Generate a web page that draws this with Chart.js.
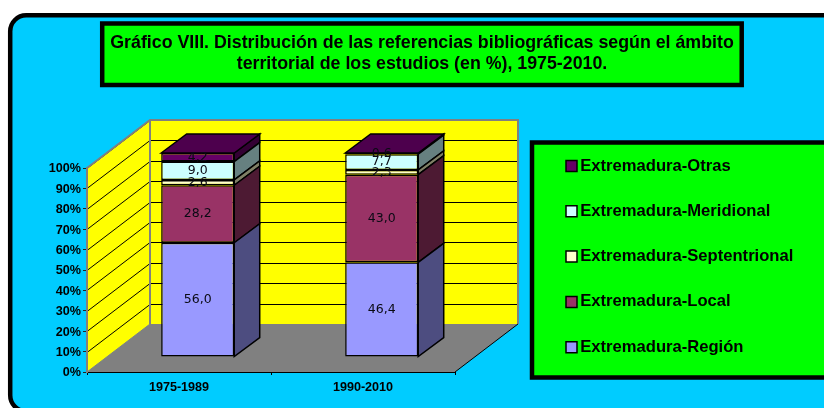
<!DOCTYPE html>
<html><head><meta charset="utf-8">
<style>html,body{margin:0;padding:0;background:#fff;overflow:hidden}canvas{display:block}</style>
<script src="https://cdn.jsdelivr.net/npm/chart.js@4/dist/chart.umd.js"></script>
</head><body><canvas id="c" width="824" height="408"></canvas>
<script>
const categories = ['1975-1989', '1990-2010'];
const region = [56.0, 46.4];
const local = [28.2, 43.0];
const septentrional = [2.6, 2.3];
const meridional = [9.0, 7.7];
const otras = [4.2, 0.6];
const seriesNames = ['Extremadura-Región','Extremadura-Local','Extremadura-Septentrional','Extremadura-Meridional','Extremadura-Otras'];
const seriesValues = [region, local, septentrional, meridional, otras];
const frontColors = ['#9999FF','#993366','#FFFFCC','#CCFFFF','#660066'];
const sideColors = ['#4D4D80','#4D1A33','#808066','#668080','#330033'];
const topColor = '#4D004D';
const titleLines = ['Gráfico VIII. Distribución de las referencias bibliográficas según el ámbito','territorial de los estudios (en %), 1975-2010.'];

const WALL_DX = 63, WALL_DY = 48;
const BAR_SHIFT_X = 18.7, BAR_SHIFT_Y = 15;
const BAR_DX = 25.5, BAR_DY = 19;

function poly(ctx, pts, fill, stroke, lw){
  ctx.beginPath();
  pts.forEach((p,i)=> i?ctx.lineTo(p[0],p[1]):ctx.moveTo(p[0],p[1]));
  ctx.closePath();
  if(fill){ctx.fillStyle=fill;ctx.fill();}
  if(stroke){ctx.strokeStyle=stroke;ctx.lineWidth=lw;ctx.stroke();}
}
function boxed(ctx,x,y,w,h){
  ctx.fillStyle='#00FF00';ctx.fillRect(x,y,w,h);
  ctx.strokeStyle='#000';ctx.lineWidth=4.5;ctx.strokeRect(x,y,w,h);
}
const scene = {
  id:'scene',
  beforeDraw(chart){
    const ctx=chart.ctx, a=chart.chartArea, ys=chart.scales.y;
    ctx.save();
    ctx.fillStyle='#fff';ctx.fillRect(0,0,824,408);
    ctx.beginPath();ctx.roundRect(10.2,15.3,900,396,16);
    ctx.fillStyle='#00CCFF';ctx.fill();
    ctx.strokeStyle='#000';ctx.lineWidth=4.5;ctx.stroke();
    boxed(ctx,102.2,23.5,639.5,61.5);
    boxed(ctx,532,142.5,320,235);
    const L=a.left,R=a.right,T=a.top,B=a.bottom;
    poly(ctx,[[L,B],[R,B],[R+WALL_DX,B-WALL_DY],[L+WALL_DX,B-WALL_DY]],'#808080');
    poly(ctx,[[L,B],[L+WALL_DX,B-WALL_DY],[L+WALL_DX,T-WALL_DY],[L,T]],'#FFFF00');
    ctx.fillStyle='#FFFF00';ctx.fillRect(L+WALL_DX,T-WALL_DY,R-L,B-T);
    ctx.strokeStyle='#000';ctx.lineWidth=1;
    ys.ticks.forEach(t=>{
      if(t.value===0) return;
      const y=Math.round(ys.getPixelForValue(t.value))+0.5;
      ctx.beginPath();ctx.moveTo(L,y);ctx.lineTo(L+WALL_DX,y-WALL_DY);ctx.lineTo(R+WALL_DX,y-WALL_DY);ctx.stroke();
    });
    ctx.strokeStyle='#808080';ctx.lineWidth=2;
    ctx.beginPath();ctx.moveTo(L,T);ctx.lineTo(L+WALL_DX,T-WALL_DY);ctx.lineTo(R+WALL_DX,T-WALL_DY);ctx.lineTo(R+WALL_DX,B-WALL_DY);ctx.stroke();
    ctx.beginPath();ctx.moveTo(L+WALL_DX,T-WALL_DY);ctx.lineTo(L+WALL_DX,B-WALL_DY);ctx.stroke();
    ctx.strokeStyle='#000';ctx.lineWidth=1;
    ctx.beginPath();ctx.moveTo(R,B);ctx.lineTo(R+WALL_DX,B-WALL_DY);ctx.stroke();
    ctx.beginPath();ctx.moveTo(L,B);ctx.lineTo(L+WALL_DX,B-WALL_DY);ctx.strokeStyle='#808080';ctx.stroke();
    ctx.restore();
    const tb=chart.titleBlock; tb.left=104; tb.right=740; tb.top=32.5;
    const lg=chart.legend; lg.left=542.3; lg.right=824; lg.top=129; lg.bottom=400;
  },
  beforeDatasetDraw(chart,args){
    const ctx=chart.ctx, meta=args.meta;
    ctx.save();
    ctx.translate(BAR_SHIFT_X,-BAR_SHIFT_Y);
    ctx.lineJoin='miter';
    const last=chart.data.datasets.length-1;
    meta.data.forEach(el=>{
      const p=el.getProps(['x','y','base','width'],true);
      const l=p.x-p.width/2,r=p.x+p.width/2,t=p.y,b=p.base;
      poly(ctx,[[r,t],[r+BAR_DX,t-BAR_DY],[r+BAR_DX,b-BAR_DY],[r,b]],sideColors[args.index],'#000',1.5);
      if(args.index===last) poly(ctx,[[l,t],[l+BAR_DX,t-BAR_DY],[r+BAR_DX,t-BAR_DY],[r,t]],topColor,'#000',1.5);
    });
  },
  afterDatasetDraw(chart){ chart.ctx.restore(); },
  afterDatasetsDraw(chart){
    const ctx=chart.ctx;
    ctx.save();
    ctx.font='12.5px "DejaVu Sans"';ctx.fillStyle='#0a0a14';ctx.textAlign='center';ctx.textBaseline='middle';
    chart.data.datasets.forEach((ds,i)=>{
      chart.getDatasetMeta(i).data.forEach((el,j)=>{
        const p=el.getProps(['x','y','base'],true);
        ctx.fillText(ds.data[j].toFixed(1).replace('.',','),p.x+BAR_SHIFT_X,(p.y+p.base)/2-BAR_SHIFT_Y);
      });
    });
    ctx.restore();
  }
};

new Chart(document.getElementById('c'),{
  type:'bar',
  data:{labels:categories,datasets:seriesNames.map((n,i)=>({
    label:n,data:seriesValues[i],backgroundColor:frontColors[i],borderColor:'#000',borderWidth:1.5,borderSkipped:false,
    categoryPercentage:1,barPercentage:0.397,clip:false
  }))},
  options:{
    responsive:false,animation:false,
    layout:{padding:{left:0,right:369,top:126,bottom:0}},
    scales:{
      x:{stacked:true,offset:true,
        afterFit(s){s.height=36;},
        border:{color:'#000',width:1},
        grid:{drawOnChartArea:false,tickLength:3,color:'#000'},
        ticks:{color:'#000',font:{family:'"Liberation Sans"',size:12.6,weight:'bold'},padding:5,maxRotation:0}},
      y:{stacked:true,min:0,max:100,
        afterFit(s){s.width=87;},
        border:{color:'#808080',width:2},
        grid:{drawOnChartArea:false,tickLength:4,color:'#222'},
        ticks:{stepSize:10,color:'#000',font:{family:'"Liberation Sans"',size:12.6,weight:'bold'},padding:2,labelOffset:1,callback:v=>v+'%'}}
    },
    plugins:{
      tooltip:{enabled:false},
      title:{display:true,text:titleLines,color:'#000',padding:0,font:{family:'"Liberation Sans"',size:17.8,weight:'bold',lineHeight:1.18}},
      legend:{display:true,position:'chartArea',align:'start',reverse:true,
        labels:{color:'#000',usePointStyle:true,pointStyle:'rect',boxWidth:1,boxHeight:11,padding:28.7,
          font:{family:'"Liberation Sans"',size:16.6,weight:'bold'}}}
    }
  },
  plugins:[scene]
});
</script></body></html>
